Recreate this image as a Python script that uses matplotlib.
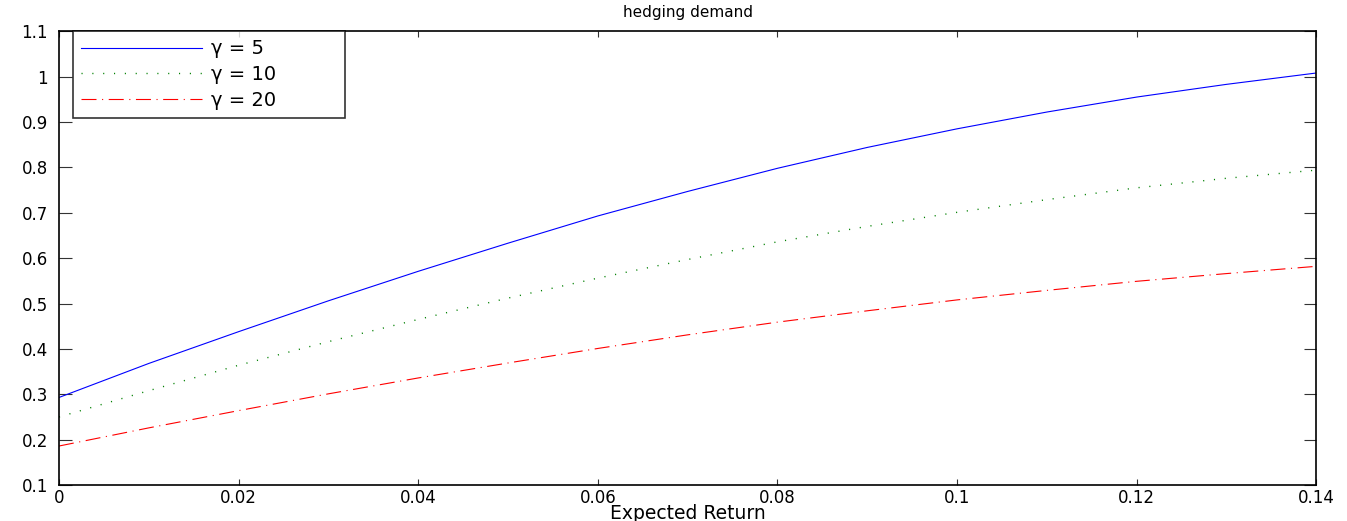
import matplotlib
matplotlib.use("Agg")
import matplotlib.pyplot as plt

plt.rcParams['font.family'] = ['DejaVu Sans']

# expected return grid and hedging demand per risk aversion
expected_return = [0.00, 0.01, 0.02, 0.03, 0.04, 0.05, 0.06, 0.07,
                   0.08, 0.09, 0.10, 0.11, 0.12, 0.13, 0.14]
demand_g5 = [0.293, 0.368, 0.438, 0.506, 0.571, 0.633, 0.693, 0.747,
             0.798, 0.844, 0.885, 0.922, 0.955, 0.983, 1.008]
demand_g10 = [0.250, 0.308, 0.364, 0.416, 0.465, 0.512, 0.556, 0.597,
              0.636, 0.670, 0.701, 0.729, 0.755, 0.776, 0.794]
demand_g20 = [0.186, 0.226, 0.264, 0.301, 0.336, 0.369, 0.401, 0.431,
              0.459, 0.484, 0.508, 0.529, 0.549, 0.566, 0.582]

x_ticks = [0, 0.02, 0.04, 0.06, 0.08, 0.1, 0.12, 0.14]
x_tick_labels = ['0', '0.02', '0.04', '0.06', '0.08', '0.1', '0.12', '0.14']
y_ticks = [0.1, 0.2, 0.3, 0.4, 0.5, 0.6, 0.7, 0.8, 0.9, 1.0, 1.1]
y_tick_labels = ['0.1', '0.2', '0.3', '0.4', '0.5', '0.6', '0.7', '0.8', '0.9', '1', '1.1']

fig = plt.figure(figsize=(13.47, 5.21), dpi=100)
ax = fig.add_axes([0.0438, 0.069, 0.9334, 0.871])

ax.plot(expected_return, demand_g5, color='#0000ff', linestyle='-', linewidth=0.8,
        label='\u03b3 = 5')
ax.plot(expected_return, demand_g10, color='#008000', linestyle=(0, (0.8, 7)),
        linewidth=1.0, label='\u03b3 = 10')
ax.plot(expected_return, demand_g20, color='#ff0000', linestyle=(0, (13.5, 5, 1, 5)),
        linewidth=0.8, label='\u03b3 = 20')

ax.set_xlim(0, 0.14)
ax.set_ylim(0.1, 1.1)
ax.set_xticks(x_ticks)
ax.set_xticklabels(x_tick_labels)
ax.set_yticks(y_ticks)
ax.set_yticklabels(y_tick_labels)

ax.tick_params(axis='both', direction='in', labelsize=12, width=0.8, color='#333333')
ax.tick_params(axis='y', length=9, right=True, pad=8)
ax.tick_params(axis='x', length=4.5, top=True, pad=3)
for side in ax.spines.values():
    side.set_linewidth(1.2)

ax.set_title('hedging demand', fontsize=11, pad=10)
ax.set_xlabel('Expected Return', fontsize=13.5, labelpad=-2)

# legend box stretched to the width used in the original figure
leg = ax.legend(loc='upper left', bbox_to_anchor=(0.0111, 0.0, 0.2164, 1.0),
                mode='expand', fontsize=14, frameon=True, fancybox=False,
                handlelength=6.2, borderpad=0.42, labelspacing=0.35,
                handletextpad=0.5, borderaxespad=0)
leg.get_frame().set_edgecolor('black')
leg.get_frame().set_linewidth(1.2)

fig.savefig('out.png', dpi=100)
